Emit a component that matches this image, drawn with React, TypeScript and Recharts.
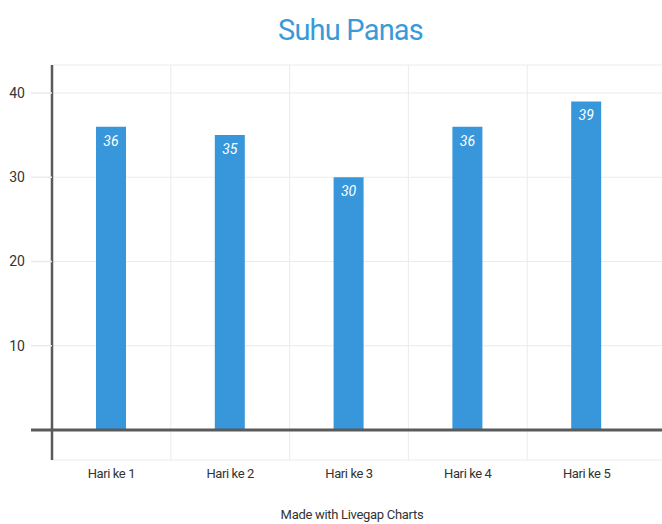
import { BarChart, Bar, XAxis, YAxis, CartesianGrid, ReferenceLine, LabelList } from "recharts";

const categories = ["Hari ke 1", "Hari ke 2", "Hari ke 3", "Hari ke 4", "Hari ke 5"];
const suhu = [36, 35, 30, 36, 39];
const yTicks = [0, 10, 20, 30, 40];

const data = categories.map((name, i) => ({ name, suhu: suhu[i] }));

const W = 662;
const H = 524;
const PAD_RIGHT = 16;
const TICK_LEN = 21;
const TICK_GAP = 6;

const FONT = "Roboto, 'Noto Sans', sans-serif";

// y tick: label plus a short stub left of the axis (grid continues past the axis)
function YTick(props: any) {
  const { x, y, payload } = props;
  const zero = payload.value === 0;
  return (
    <g>
      <line
        x1={x + TICK_GAP}
        x2={x + TICK_GAP + TICK_LEN}
        y1={y}
        y2={y}
        stroke={zero ? "#5a5a5a" : "#ebebeb"}
        strokeWidth={zero ? 3 : 1.5}
      />
      {!zero && (
        <text x={x} y={y} dy={5} textAnchor="end" fill="#333" fontSize={14} fontFamily={FONT}>
          {payload.value}
        </text>
      )}
    </g>
  );
}

// vertical grid lines sit between the categories
const bandLines = ({ offset }: any) => {
  const left = offset.left;
  const w = offset.width - PAD_RIGHT;
  const n = categories.length;
  const out: number[] = [];
  for (let i = 1; i < n; i++) out.push(left + (w * i) / n);
  return out;
};

export default function App() {
  return (
    <div style={{ position: "relative", width: W, height: H, background: "#fff", fontFamily: FONT }}>
      <style>{`body{margin:0}`}</style>
      <div
        style={{
          position: "absolute",
          top: 13,
          left: 0,
          width: 701,
          textAlign: "center",
          fontSize: 29,
          color: "#3a9ad9",
          letterSpacing: -0.8,
        }}
      >
        Suhu Panas
      </div>

      <BarChart
        width={W}
        height={H}
        data={data}
        margin={{ top: 65, right: 0, bottom: 34, left: 0 }}
      >
        <CartesianGrid
          stroke="#ebebeb"
          strokeWidth={1}
          verticalCoordinatesGenerator={bandLines}
        />
        <XAxis
          dataKey="name"
          axisLine={false}
          tickLine={false}
          height={30}
          tickMargin={3}
          padding={{ left: 0, right: PAD_RIGHT }}
          tick={{ fill: "#333", fontSize: 13, fontFamily: FONT, letterSpacing: -0.4 }}
          interval={0}
        />
        <YAxis
          width={52}
          domain={[-3.56, 43.32]}
          ticks={yTicks}
          allowDataOverflow
          axisLine={{ stroke: "#5a5a5a", strokeWidth: 2.5 }}
          tickLine={false}
          tickSize={TICK_LEN}
          tickMargin={TICK_GAP}
          tick={<YTick />}
        />
        <Bar dataKey="suhu" fill="#3897db" barSize={30} isAnimationActive={false}>
          <LabelList
            dataKey="suhu"
            position="insideTop"
            offset={9}
            fill="#fff"
            fontSize={14}
            fontStyle="italic"
            fontFamily={FONT}
          />
        </Bar>
        <ReferenceLine y={0} stroke="#5a5a5a" strokeWidth={3} />
      </BarChart>

      <div
        style={{
          position: "absolute",
          top: 507,
          left: 0,
          width: 704,
          textAlign: "center",
          fontSize: 13,
          color: "#333",
          letterSpacing: -0.3,
        }}
      >
        Made with Livegap Charts
      </div>
    </div>
  );
}
